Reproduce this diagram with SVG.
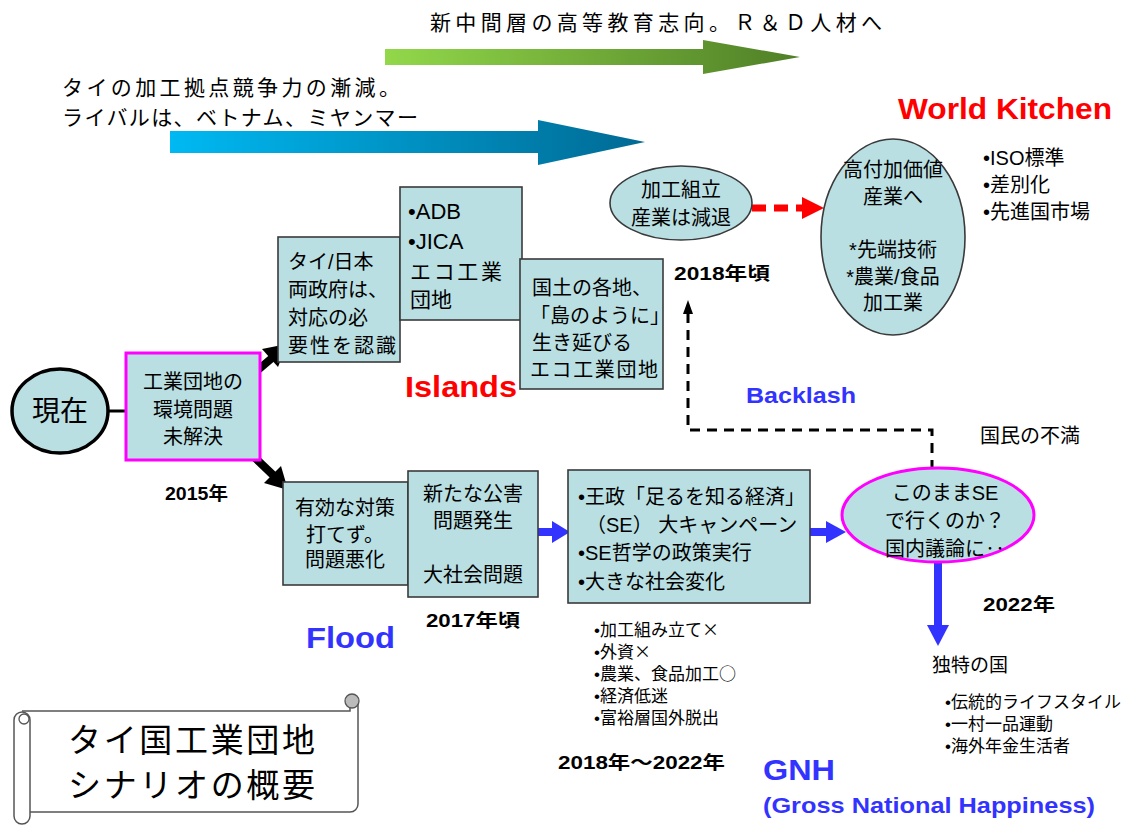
<svg xmlns="http://www.w3.org/2000/svg" width="1126" height="825" viewBox="0 0 1126 825">
<defs>
<linearGradient id="gGreen" x1="0" y1="0" x2="1" y2="0">
<stop offset="0" stop-color="#92d84a"/><stop offset="1" stop-color="#4f7f27"/>
</linearGradient>
<linearGradient id="gBlue" x1="0" y1="0" x2="1" y2="0">
<stop offset="0" stop-color="#00b9f2"/><stop offset="1" stop-color="#006a94"/>
</linearGradient>
<style>
text{font-family:"Liberation Sans","Noto Sans CJK JP",sans-serif;fill:#000}
.jp{font-family:"Noto Sans CJK JP","Liberation Sans",sans-serif}
.box{fill:#b9dfe3;stroke:#3a3a3a;stroke-width:1.6}
.mag{fill:#b9dfe3;stroke:#ff00ff;stroke-width:3}
.t{font-size:20px}
.s{font-size:17px}
.yr{font-size:18px;font-weight:bold}
.red{fill:#ff0000;font-weight:bold;font-size:30px}
.blu{fill:#3333ff;font-weight:bold}
.mid{text-anchor:middle}
</style>
</defs>

<g id="trend-arrows">
<text x="430" y="30" style="font-size:21px" textLength="452">新中間層の高等教育志向。Ｒ＆Ｄ人材へ</text>
<path d="M385 49 H703 V40 L800 57 L703 74 V65 H385 Z" fill="url(#gGreen)"/>
<text x="62" y="95" style="font-size:21px" textLength="338">タイの加工拠点競争力の漸減。</text>
<text x="62" y="125" style="font-size:21px" textLength="356">ライバルは、ベトナム、ミヤンマー</text>
<path d="M170 131 H538 V120 L645 142 L538 165 V153 H170 Z" fill="url(#gBlue)"/>
</g>

<g id="connectors">
<line x1="108" y1="411" x2="126" y2="411" stroke="#000" stroke-width="3"/>
<line x1="252" y1="375" x2="272" y2="358" stroke="#000" stroke-width="8"/>
<polygon points="287,344 278,367 262,349" fill="#000"/>
<line x1="252" y1="455" x2="273" y2="475" stroke="#000" stroke-width="8"/>
<polygon points="288,490 264,483 281,466" fill="#000"/>
<line x1="538" y1="532" x2="554" y2="532" stroke="#3333ff" stroke-width="8"/>
<polygon points="552,521 570,532 552,543" fill="#3333ff"/>
<line x1="810" y1="532" x2="828" y2="532" stroke="#3333ff" stroke-width="8"/>
<polygon points="826,521 846,532 826,543" fill="#3333ff"/>
<line x1="938" y1="563" x2="938" y2="627" stroke="#3333ff" stroke-width="8"/>
<polygon points="927,625 949,625 938,646" fill="#3333ff"/>
<line x1="752" y1="208" x2="804" y2="208" stroke="#ff0000" stroke-width="7" stroke-dasharray="14 8"/>
<polygon points="802,197 824,208 802,219" fill="#ff0000"/>
<path d="M932 470 V430 H688 V312" fill="none" stroke="#000" stroke-width="3" stroke-dasharray="10 7"/>
<polygon points="683,314 693,314 688,300" fill="#000"/>
</g>

<g id="now">
<ellipse cx="60" cy="411" rx="48" ry="42" fill="#b9dfe3" stroke="#000" stroke-width="3.5"/>
<text x="60" y="421" class="mid" style="font-size:28px">現在</text>
</g>

<g id="unsolved">
<rect x="126" y="353" width="134" height="107" class="mag"/>
<text x="193" y="389" class="t mid">工業団地の</text>
<text x="193" y="417" class="t mid">環境問題</text>
<text x="193" y="444" class="t mid">未解決</text>
</g>

<g id="gov">
<rect x="278" y="237" width="122" height="125" class="box"/>
<text x="288" y="269" class="t">タイ/日本</text>
<text x="288" y="297" class="t">両政府は、</text>
<text x="288" y="325" class="t">対応の必</text>
<text x="288" y="353" class="t" textLength="108">要性を認識</text>
</g>

<g id="adb">
<rect x="400" y="187" width="122" height="133" class="box"/>
<text x="408" y="219" style="font-size:22px">•ADB</text>
<text x="408" y="249" style="font-size:22px">•JICA</text>
<text x="410" y="279" style="font-size:21px" textLength="92">エコ工業</text>
<text x="410" y="307" style="font-size:21px">団地</text>
</g>

<g id="eco-islands">
<rect x="520" y="259" width="143" height="130" class="box"/>
<text x="532" y="295" class="t">国土の各地、</text>
<text x="530" y="323" class="t">「島のように」</text>
<text x="532" y="350" class="t">生き延びる</text>
<text x="530" y="377" class="t" textLength="128">エコ工業団地</text>
</g>

<text x="405" y="397" class="red" textLength="112" lengthAdjust="spacingAndGlyphs">Islands</text>

<g id="decline">
<ellipse cx="681" cy="203" rx="71" ry="37" fill="#b9dfe3" stroke="#3a3a3a" stroke-width="1.6"/>
<text x="681" y="197" class="t mid">加工組立</text>
<text x="681" y="225" class="t mid">産業は減退</text>
</g>

<text x="674" y="280" class="yr" textLength="96" lengthAdjust="spacingAndGlyphs">2018年頃</text>

<g id="high-value">
<ellipse cx="893" cy="237" rx="72" ry="98" fill="#b9dfe3" stroke="#3a3a3a" stroke-width="1.6"/>
<text x="893" y="177" class="t mid">高付加価値</text>
<text x="893" y="204" class="t mid">産業へ</text>
<text x="893" y="257" class="t mid">*先端技術</text>
<text x="893" y="284" class="t mid">*農業/食品</text>
<text x="893" y="310" class="t mid">加工業</text>
</g>

<text x="898" y="119" class="red" textLength="214" lengthAdjust="spacingAndGlyphs">World Kitchen</text>
<text x="983" y="165" style="font-size:20px">•ISO標準</text>
<text x="983" y="192" style="font-size:20px">•差別化</text>
<text x="983" y="219" style="font-size:20px">•先進国市場</text>

<text x="746" y="403" class="blu" style="font-size:22px" textLength="110" lengthAdjust="spacingAndGlyphs">Backlash</text>
<text x="980" y="443" style="font-size:20px">国民の不満</text>

<g id="no-measure">
<rect x="283" y="482" width="125" height="103" class="box"/>
<text x="345" y="515" class="t mid">有効な対策</text>
<text x="345" y="542" class="t mid">打てず。</text>
<text x="345" y="567" class="t mid">問題悪化</text>
</g>

<g id="pollution">
<rect x="408" y="471" width="130" height="126" class="box"/>
<text x="473" y="501" class="t mid">新たな公害</text>
<text x="473" y="528" class="t mid">問題発生</text>
<text x="473" y="582" class="t mid">大社会問題</text>
</g>

<text x="165" y="500" class="yr" textLength="63" lengthAdjust="spacingAndGlyphs">2015年</text>
<text x="426" y="627" class="yr" textLength="94" lengthAdjust="spacingAndGlyphs">2017年頃</text>
<text x="306" y="648" class="blu" style="font-size:29px" textLength="89" lengthAdjust="spacingAndGlyphs">Flood</text>

<g id="se-campaign">
<rect x="568" y="470" width="242" height="133" class="box"/>
<text x="578" y="504" class="t">•王政「足るを知る経済」</text>
<text x="586" y="532" class="t">（SE） 大キャンペーン</text>
<text x="578" y="560" class="t">•SE哲学の政策実行</text>
<text x="578" y="589" class="t">•大きな社会変化</text>
</g>

<g id="debate">
<ellipse cx="938" cy="515" rx="96" ry="47" fill="#b9dfe3" stroke="#ff00ff" stroke-width="3"/>
<text x="945" y="500" class="t mid">このままSE</text>
<text x="945" y="528" class="t mid">で行くのか？</text>
<text x="945" y="556" class="t mid">国内議論に‥</text>
</g>

<text x="983" y="611" class="yr" textLength="72" lengthAdjust="spacingAndGlyphs">2022年</text>
<text x="932" y="672" style="font-size:19px">独特の国</text>
<text x="945" y="708" class="s">•伝統的ライフスタイル</text>
<text x="945" y="730" class="s">•一村一品運動</text>
<text x="945" y="752" class="s">•海外年金生活者</text>

<text x="594" y="636" class="s">•加工組み立て<tspan class="jp">×</tspan></text>
<text x="594" y="658" class="s">•外資<tspan class="jp">×</tspan></text>
<text x="594" y="680" class="s">•農業、食品加工<tspan class="jp">○</tspan></text>
<text x="594" y="702" class="s">•経済低迷</text>
<text x="594" y="724" class="s">•富裕層国外脱出</text>

<text x="558" y="769" class="yr" textLength="167" lengthAdjust="spacingAndGlyphs">2018年～2022年</text>
<text x="763" y="780" class="blu" style="font-size:30px" textLength="72" lengthAdjust="spacingAndGlyphs">GNH</text>
<text x="763" y="813" class="blu" style="font-size:22px" textLength="332" lengthAdjust="spacingAndGlyphs">(Gross National Happiness)</text>

<g id="title-scroll">
<path d="M22 711 H350 V703 A8 8 0 0 1 358 703 V804 A8 8 0 0 1 350 812 H30" fill="#fff" stroke="#555" stroke-width="1.5"/>
<circle cx="352" cy="701" r="7" fill="#bbb" stroke="#555" stroke-width="1.3"/>
<path d="M30 720 V816 A8 8 0 0 1 14 816 V720 A8 8 0 0 1 30 720 Z" fill="#fff" stroke="#555" stroke-width="1.5"/>
<circle cx="24" cy="719" r="5" fill="#fff" stroke="#555" stroke-width="1.3"/>
<text x="68" y="752" style="font-size:33px" textLength="247">タイ国工業団地</text>
<text x="68" y="797" style="font-size:33px" textLength="247">シナリオの概要</text>
</g>
</svg>
